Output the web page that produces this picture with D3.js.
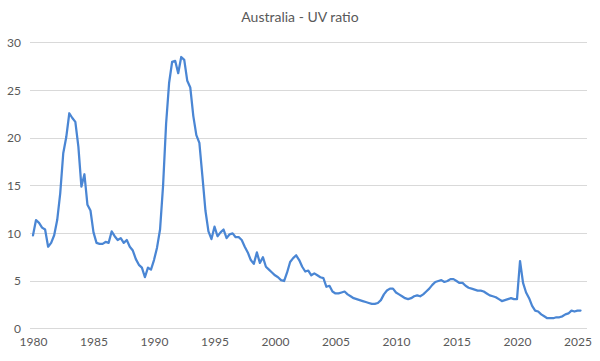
<!DOCTYPE html>
<html>
<head>
<meta charset="utf-8">
<script src="https://cdn.jsdelivr.net/npm/d3@7"></script>
<style>
  html, body { margin: 0; padding: 0; background: #fff; }
  svg { display: block; }
  text { font-family: Lato, "Open Sans", sans-serif; fill: #595959; }
</style>
</head>
<body>
<svg id="chart" width="600" height="361"></svg>
<script>
// Quarterly series, starting 1980 Q1
const startYear = 1980;
const uvRatio = [
  9.8, 11.4, 11.1, 10.6,   // 1980
  10.4, 8.6, 9.0, 9.8,     // 1981
  11.4, 14.2, 18.4, 20.1,  // 1982
  22.6, 22.1, 21.7, 19.1,  // 1983
  14.9, 16.2, 13.0, 12.4,  // 1984
  10.1, 9.0, 8.9, 8.9,     // 1985
  9.1, 9.0, 10.2, 9.7,     // 1986
  9.3, 9.5, 9.0, 9.3,      // 1987
  8.6, 8.2, 7.3, 6.7,      // 1988
  6.4, 5.4, 6.4, 6.2,      // 1989
  7.2, 8.5, 10.4, 15.0,    // 1990
  21.5, 25.8, 28.0, 28.1,  // 1991
  26.8, 28.5, 28.2, 26.0,  // 1992
  25.3, 22.3, 20.3, 19.5,  // 1993
  16.0, 12.4, 10.2, 9.4,   // 1994
  10.7, 9.7, 10.1, 10.4,   // 1995
  9.5, 9.9, 10.0, 9.6,     // 1996
  9.6, 9.3, 8.6, 8.0,      // 1997
  7.2, 6.8, 8.0, 6.9,      // 1998
  7.5, 6.5, 6.2, 5.9,      // 1999
  5.6, 5.4, 5.1, 5.0,      // 2000
  5.9, 7.0, 7.4, 7.7,      // 2001
  7.2, 6.5, 6.0, 6.1,      // 2002
  5.6, 5.8, 5.6, 5.4,      // 2003
  5.3, 4.4, 4.5, 3.9,      // 2004
  3.7, 3.7, 3.8, 3.9,      // 2005
  3.6, 3.4, 3.2, 3.1,      // 2006
  3.0, 2.9, 2.8, 2.7,      // 2007
  2.6, 2.6, 2.7, 3.0,      // 2008
  3.6, 4.0, 4.2, 4.2,      // 2009
  3.8, 3.6, 3.4, 3.2,      // 2010
  3.1, 3.2, 3.4, 3.5,      // 2011
  3.4, 3.6, 3.9, 4.2,      // 2012
  4.6, 4.9, 5.0, 5.1,      // 2013
  4.9, 5.0, 5.2, 5.2,      // 2014
  5.0, 4.8, 4.8, 4.5,      // 2015
  4.3, 4.2, 4.1, 4.0,      // 2016
  4.0, 3.9, 3.7, 3.5,      // 2017
  3.4, 3.3, 3.1, 2.9,      // 2018
  3.0, 3.1, 3.2, 3.1,      // 2019
  3.1, 7.1, 4.8, 3.8,      // 2020
  3.2, 2.4, 1.9, 1.8,      // 2021
  1.5, 1.3, 1.1, 1.1,      // 2022
  1.1, 1.2, 1.2, 1.3,      // 2023
  1.5, 1.6, 1.9, 1.8,      // 2024
  1.9, 1.9                 // 2025
];
const yTicks = [0, 5, 10, 15, 20, 25, 30];
const xTicks = [1980, 1985, 1990, 1995, 2000, 2005, 2010, 2015, 2020, 2025];
const title = "Australia - UV ratio";

const data = uvRatio.map((v, i) => ({ t: startYear + i / 4, v }));

const svg = d3.select("#chart");
const x = d3.scaleLinear().domain([1980, 2025]).range([33, 577.5]);
const y = d3.scaleLinear().domain([0, 30]).range([328.7, 42.7]);

// title
svg.append("text")
  .attr("x", 300).attr("y", 22)
  .attr("text-anchor", "middle")
  .style("font-size", "14px")
  .text(title);

// gridlines
svg.append("g").selectAll("line").data(yTicks).join("line")
  .attr("x1", 30).attr("x2", 587)
  .attr("y1", d => y(d)).attr("y2", d => y(d))
  .attr("stroke", "#d9d9d9").attr("stroke-width", 1)
  .attr("shape-rendering", "crispEdges");

// y axis labels
const yAxis = d3.axisLeft(y).tickValues(yTicks).tickSize(0).tickPadding(0);
const gy = svg.append("g").attr("transform", "translate(21,0)").call(yAxis);
gy.select(".domain").remove();
gy.selectAll("text").style("font-size", "12px").attr("fill", "#595959").style("font-family", "Lato, 'Open Sans', sans-serif");

// x axis labels
const xAxis = d3.axisBottom(x).tickValues(xTicks).tickFormat(d3.format("d")).tickSize(0).tickPadding(0);
const gx = svg.append("g").attr("transform", "translate(0,337)").call(xAxis);
gx.select(".domain").remove();
gx.selectAll("text").style("font-size", "12px").attr("fill", "#595959").style("font-family", "Lato, 'Open Sans', sans-serif");

// line
const line = d3.line().x(d => x(d.t)).y(d => y(d.v));
svg.append("path").datum(data)
  .attr("d", line)
  .attr("fill", "none")
  .attr("stroke", "#4a86d4")
  .attr("stroke-width", 2.25)
  .attr("stroke-linejoin", "round")
  .attr("stroke-linecap", "round");
</script>
</body>
</html>
